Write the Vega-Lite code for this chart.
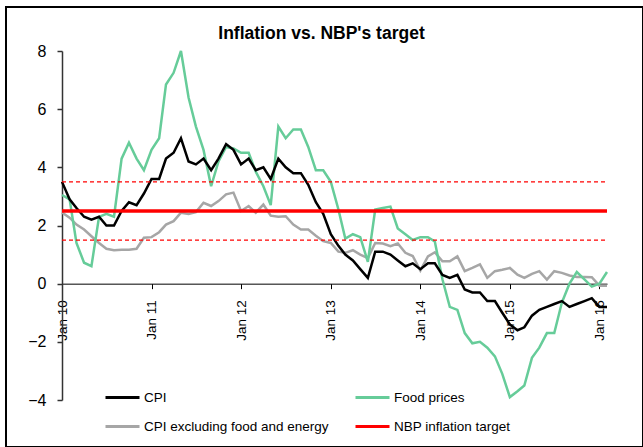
{
  "$schema": "https://vega.github.io/schema/vega-lite/v6.json",
  "width": 637,
  "height": 440,
  "autosize": "none",
  "padding": {"left": 6, "top": 7, "right": 0, "bottom": 0},
  "background": "white",
  "config": {"view": {"stroke": "black", "strokeWidth": 2}, "font": "Liberation Sans"},
  "title": {"text": "Inflation vs. NBP's target", "fontSize": 17.5, "fontWeight": "bold", "font": "Liberation Sans", "color": "black", "offset": -49.5, "baseline": "alphabetic", "dx": -3},
  "datasets": {
    "series": [
      {"date":"2010/01/01","series":"CPI excluding food and energy","value":2.45},
      {"date":"2010/02/01","series":"CPI excluding food and energy","value":2.27},
      {"date":"2010/03/01","series":"CPI excluding food and energy","value":2.03},
      {"date":"2010/04/01","series":"CPI excluding food and energy","value":1.86},
      {"date":"2010/05/01","series":"CPI excluding food and energy","value":1.63},
      {"date":"2010/06/01","series":"CPI excluding food and energy","value":1.4},
      {"date":"2010/07/01","series":"CPI excluding food and energy","value":1.2},
      {"date":"2010/08/01","series":"CPI excluding food and energy","value":1.15},
      {"date":"2010/09/01","series":"CPI excluding food and energy","value":1.17},
      {"date":"2010/10/01","series":"CPI excluding food and energy","value":1.17},
      {"date":"2010/11/01","series":"CPI excluding food and energy","value":1.2},
      {"date":"2010/12/01","series":"CPI excluding food and energy","value":1.58},
      {"date":"2011/01/01","series":"CPI excluding food and energy","value":1.6},
      {"date":"2011/02/01","series":"CPI excluding food and energy","value":1.77},
      {"date":"2011/03/01","series":"CPI excluding food and energy","value":2.03},
      {"date":"2011/04/01","series":"CPI excluding food and energy","value":2.15},
      {"date":"2011/05/01","series":"CPI excluding food and energy","value":2.44},
      {"date":"2011/06/01","series":"CPI excluding food and energy","value":2.4},
      {"date":"2011/07/01","series":"CPI excluding food and energy","value":2.46},
      {"date":"2011/08/01","series":"CPI excluding food and energy","value":2.78},
      {"date":"2011/09/01","series":"CPI excluding food and energy","value":2.67},
      {"date":"2011/10/01","series":"CPI excluding food and energy","value":2.84},
      {"date":"2011/11/01","series":"CPI excluding food and energy","value":3.07},
      {"date":"2011/12/01","series":"CPI excluding food and energy","value":3.13},
      {"date":"2012/01/01","series":"CPI excluding food and energy","value":2.5},
      {"date":"2012/02/01","series":"CPI excluding food and energy","value":2.67},
      {"date":"2012/03/01","series":"CPI excluding food and energy","value":2.44},
      {"date":"2012/04/01","series":"CPI excluding food and energy","value":2.72},
      {"date":"2012/05/01","series":"CPI excluding food and energy","value":2.34},
      {"date":"2012/06/01","series":"CPI excluding food and energy","value":2.3},
      {"date":"2012/07/01","series":"CPI excluding food and energy","value":2.32},
      {"date":"2012/08/01","series":"CPI excluding food and energy","value":2.03},
      {"date":"2012/09/01","series":"CPI excluding food and energy","value":1.86},
      {"date":"2012/10/01","series":"CPI excluding food and energy","value":1.86},
      {"date":"2012/11/01","series":"CPI excluding food and energy","value":1.65},
      {"date":"2012/12/01","series":"CPI excluding food and energy","value":1.46},
      {"date":"2013/01/01","series":"CPI excluding food and energy","value":1.4},
      {"date":"2013/02/01","series":"CPI excluding food and energy","value":1.1},
      {"date":"2013/03/01","series":"CPI excluding food and energy","value":1.06},
      {"date":"2013/04/01","series":"CPI excluding food and energy","value":1.15},
      {"date":"2013/05/01","series":"CPI excluding food and energy","value":1.0},
      {"date":"2013/06/01","series":"CPI excluding food and energy","value":0.88},
      {"date":"2013/07/01","series":"CPI excluding food and energy","value":1.4},
      {"date":"2013/08/01","series":"CPI excluding food and energy","value":1.38},
      {"date":"2013/09/01","series":"CPI excluding food and energy","value":1.29},
      {"date":"2013/10/01","series":"CPI excluding food and energy","value":1.38},
      {"date":"2013/11/01","series":"CPI excluding food and energy","value":1.06},
      {"date":"2013/12/01","series":"CPI excluding food and energy","value":0.95},
      {"date":"2014/01/01","series":"CPI excluding food and energy","value":0.45},
      {"date":"2014/02/01","series":"CPI excluding food and energy","value":0.94},
      {"date":"2014/03/01","series":"CPI excluding food and energy","value":1.08},
      {"date":"2014/04/01","series":"CPI excluding food and energy","value":0.77},
      {"date":"2014/05/01","series":"CPI excluding food and energy","value":0.77},
      {"date":"2014/06/01","series":"CPI excluding food and energy","value":0.94},
      {"date":"2014/07/01","series":"CPI excluding food and energy","value":0.43},
      {"date":"2014/08/01","series":"CPI excluding food and energy","value":0.54},
      {"date":"2014/09/01","series":"CPI excluding food and energy","value":0.66},
      {"date":"2014/10/01","series":"CPI excluding food and energy","value":0.2},
      {"date":"2014/11/01","series":"CPI excluding food and energy","value":0.43},
      {"date":"2014/12/01","series":"CPI excluding food and energy","value":0.48},
      {"date":"2015/01/01","series":"CPI excluding food and energy","value":0.54},
      {"date":"2015/02/01","series":"CPI excluding food and energy","value":0.31},
      {"date":"2015/03/01","series":"CPI excluding food and energy","value":0.2},
      {"date":"2015/04/01","series":"CPI excluding food and energy","value":0.34},
      {"date":"2015/05/01","series":"CPI excluding food and energy","value":0.43},
      {"date":"2015/06/01","series":"CPI excluding food and energy","value":0.14},
      {"date":"2015/07/01","series":"CPI excluding food and energy","value":0.43},
      {"date":"2015/08/01","series":"CPI excluding food and energy","value":0.37},
      {"date":"2015/09/01","series":"CPI excluding food and energy","value":0.28},
      {"date":"2015/10/01","series":"CPI excluding food and energy","value":0.23},
      {"date":"2015/11/01","series":"CPI excluding food and energy","value":0.23},
      {"date":"2015/12/01","series":"CPI excluding food and energy","value":0.22},
      {"date":"2016/01/01","series":"CPI excluding food and energy","value":-0.07},
      {"date":"2016/02/01","series":"CPI excluding food and energy","value":-0.07},

      {"date":"2010/01/01","series":"Food prices","value":3.05},
      {"date":"2010/02/01","series":"Food prices","value":2.9},
      {"date":"2010/03/01","series":"Food prices","value":1.4},
      {"date":"2010/04/01","series":"Food prices","value":0.72},
      {"date":"2010/05/01","series":"Food prices","value":0.6},
      {"date":"2010/06/01","series":"Food prices","value":2.3},
      {"date":"2010/07/01","series":"Food prices","value":2.4},
      {"date":"2010/08/01","series":"Food prices","value":2.3},
      {"date":"2010/09/01","series":"Food prices","value":4.3},
      {"date":"2010/10/01","series":"Food prices","value":4.85},
      {"date":"2010/11/01","series":"Food prices","value":4.3},
      {"date":"2010/12/01","series":"Food prices","value":3.9},
      {"date":"2011/01/01","series":"Food prices","value":4.6},
      {"date":"2011/02/01","series":"Food prices","value":5.0},
      {"date":"2011/03/01","series":"Food prices","value":6.85},
      {"date":"2011/04/01","series":"Food prices","value":7.25},
      {"date":"2011/05/01","series":"Food prices","value":8.7},
      {"date":"2011/06/01","series":"Food prices","value":6.4},
      {"date":"2011/07/01","series":"Food prices","value":5.4},
      {"date":"2011/08/01","series":"Food prices","value":4.6},
      {"date":"2011/09/01","series":"Food prices","value":3.35},
      {"date":"2011/10/01","series":"Food prices","value":4.2},
      {"date":"2011/11/01","series":"Food prices","value":4.7},
      {"date":"2011/12/01","series":"Food prices","value":4.65},
      {"date":"2012/01/01","series":"Food prices","value":4.5},
      {"date":"2012/02/01","series":"Food prices","value":4.5},
      {"date":"2012/03/01","series":"Food prices","value":3.85},
      {"date":"2012/04/01","series":"Food prices","value":3.35},
      {"date":"2012/05/01","series":"Food prices","value":2.7},
      {"date":"2012/06/01","series":"Food prices","value":5.4},
      {"date":"2012/07/01","series":"Food prices","value":5.0},
      {"date":"2012/08/01","series":"Food prices","value":5.3},
      {"date":"2012/09/01","series":"Food prices","value":5.3},
      {"date":"2012/10/01","series":"Food prices","value":4.7},
      {"date":"2012/11/01","series":"Food prices","value":3.9},
      {"date":"2012/12/01","series":"Food prices","value":3.9},
      {"date":"2013/01/01","series":"Food prices","value":3.5},
      {"date":"2013/02/01","series":"Food prices","value":2.55},
      {"date":"2013/03/01","series":"Food prices","value":1.55},
      {"date":"2013/04/01","series":"Food prices","value":1.7},
      {"date":"2013/05/01","series":"Food prices","value":1.6},
      {"date":"2013/06/01","series":"Food prices","value":0.75},
      {"date":"2013/07/01","series":"Food prices","value":2.55},
      {"date":"2013/08/01","series":"Food prices","value":2.6},
      {"date":"2013/09/01","series":"Food prices","value":2.65},
      {"date":"2013/10/01","series":"Food prices","value":1.9},
      {"date":"2013/11/01","series":"Food prices","value":1.7},
      {"date":"2013/12/01","series":"Food prices","value":1.5},
      {"date":"2014/01/01","series":"Food prices","value":1.6},
      {"date":"2014/02/01","series":"Food prices","value":1.6},
      {"date":"2014/03/01","series":"Food prices","value":1.45},
      {"date":"2014/04/01","series":"Food prices","value":0.15},
      {"date":"2014/05/01","series":"Food prices","value":-0.8},
      {"date":"2014/06/01","series":"Food prices","value":-0.9},
      {"date":"2014/07/01","series":"Food prices","value":-1.7},
      {"date":"2014/08/01","series":"Food prices","value":-2.05},
      {"date":"2014/09/01","series":"Food prices","value":-2.0},
      {"date":"2014/10/01","series":"Food prices","value":-2.2},
      {"date":"2014/11/01","series":"Food prices","value":-2.5},
      {"date":"2014/12/01","series":"Food prices","value":-3.1},
      {"date":"2015/01/01","series":"Food prices","value":-3.9},
      {"date":"2015/02/01","series":"Food prices","value":-3.7},
      {"date":"2015/03/01","series":"Food prices","value":-3.5},
      {"date":"2015/04/01","series":"Food prices","value":-2.55},
      {"date":"2015/05/01","series":"Food prices","value":-2.2},
      {"date":"2015/06/01","series":"Food prices","value":-1.7},
      {"date":"2015/07/01","series":"Food prices","value":-1.7},
      {"date":"2015/08/01","series":"Food prices","value":-0.65},
      {"date":"2015/09/01","series":"Food prices","value":0.0},
      {"date":"2015/10/01","series":"Food prices","value":0.4},
      {"date":"2015/11/01","series":"Food prices","value":0.15},
      {"date":"2015/12/01","series":"Food prices","value":-0.1},
      {"date":"2016/01/01","series":"Food prices","value":0.0},
      {"date":"2016/02/01","series":"Food prices","value":0.4},

      {"date":"2010/01/01","series":"CPI","value":3.5},
      {"date":"2010/02/01","series":"CPI","value":2.9},
      {"date":"2010/03/01","series":"CPI","value":2.6},
      {"date":"2010/04/01","series":"CPI","value":2.3},
      {"date":"2010/05/01","series":"CPI","value":2.2},
      {"date":"2010/06/01","series":"CPI","value":2.3},
      {"date":"2010/07/01","series":"CPI","value":2.0},
      {"date":"2010/08/01","series":"CPI","value":2.0},
      {"date":"2010/09/01","series":"CPI","value":2.5},
      {"date":"2010/10/01","series":"CPI","value":2.8},
      {"date":"2010/11/01","series":"CPI","value":2.7},
      {"date":"2010/12/01","series":"CPI","value":3.1},
      {"date":"2011/01/01","series":"CPI","value":3.6},
      {"date":"2011/02/01","series":"CPI","value":3.6},
      {"date":"2011/03/01","series":"CPI","value":4.3},
      {"date":"2011/04/01","series":"CPI","value":4.5},
      {"date":"2011/05/01","series":"CPI","value":5.0},
      {"date":"2011/06/01","series":"CPI","value":4.2},
      {"date":"2011/07/01","series":"CPI","value":4.1},
      {"date":"2011/08/01","series":"CPI","value":4.3},
      {"date":"2011/09/01","series":"CPI","value":3.9},
      {"date":"2011/10/01","series":"CPI","value":4.3},
      {"date":"2011/11/01","series":"CPI","value":4.8},
      {"date":"2011/12/01","series":"CPI","value":4.6},
      {"date":"2012/01/01","series":"CPI","value":4.1},
      {"date":"2012/02/01","series":"CPI","value":4.3},
      {"date":"2012/03/01","series":"CPI","value":3.9},
      {"date":"2012/04/01","series":"CPI","value":4.0},
      {"date":"2012/05/01","series":"CPI","value":3.6},
      {"date":"2012/06/01","series":"CPI","value":4.3},
      {"date":"2012/07/01","series":"CPI","value":4.0},
      {"date":"2012/08/01","series":"CPI","value":3.8},
      {"date":"2012/09/01","series":"CPI","value":3.8},
      {"date":"2012/10/01","series":"CPI","value":3.4},
      {"date":"2012/11/01","series":"CPI","value":2.8},
      {"date":"2012/12/01","series":"CPI","value":2.4},
      {"date":"2013/01/01","series":"CPI","value":1.7},
      {"date":"2013/02/01","series":"CPI","value":1.3},
      {"date":"2013/03/01","series":"CPI","value":1.0},
      {"date":"2013/04/01","series":"CPI","value":0.8},
      {"date":"2013/05/01","series":"CPI","value":0.5},
      {"date":"2013/06/01","series":"CPI","value":0.2},
      {"date":"2013/07/01","series":"CPI","value":1.1},
      {"date":"2013/08/01","series":"CPI","value":1.1},
      {"date":"2013/09/01","series":"CPI","value":1.0},
      {"date":"2013/10/01","series":"CPI","value":0.8},
      {"date":"2013/11/01","series":"CPI","value":0.6},
      {"date":"2013/12/01","series":"CPI","value":0.7},
      {"date":"2014/01/01","series":"CPI","value":0.5},
      {"date":"2014/02/01","series":"CPI","value":0.7},
      {"date":"2014/03/01","series":"CPI","value":0.7},
      {"date":"2014/04/01","series":"CPI","value":0.3},
      {"date":"2014/05/01","series":"CPI","value":0.2},
      {"date":"2014/06/01","series":"CPI","value":0.3},
      {"date":"2014/07/01","series":"CPI","value":-0.2},
      {"date":"2014/08/01","series":"CPI","value":-0.3},
      {"date":"2014/09/01","series":"CPI","value":-0.3},
      {"date":"2014/10/01","series":"CPI","value":-0.6},
      {"date":"2014/11/01","series":"CPI","value":-0.6},
      {"date":"2014/12/01","series":"CPI","value":-1.0},
      {"date":"2015/01/01","series":"CPI","value":-1.4},
      {"date":"2015/02/01","series":"CPI","value":-1.6},
      {"date":"2015/03/01","series":"CPI","value":-1.5},
      {"date":"2015/04/01","series":"CPI","value":-1.1},
      {"date":"2015/05/01","series":"CPI","value":-0.9},
      {"date":"2015/06/01","series":"CPI","value":-0.8},
      {"date":"2015/07/01","series":"CPI","value":-0.7},
      {"date":"2015/08/01","series":"CPI","value":-0.6},
      {"date":"2015/09/01","series":"CPI","value":-0.8},
      {"date":"2015/10/01","series":"CPI","value":-0.7},
      {"date":"2015/11/01","series":"CPI","value":-0.6},
      {"date":"2015/12/01","series":"CPI","value":-0.5},
      {"date":"2016/01/01","series":"CPI","value":-0.8},
      {"date":"2016/02/01","series":"CPI","value":-0.8}
    ],
    "target": [
      {"series": "NBP inflation target", "start": "2010/01/01", "end": "2016/02/01", "value": 2.5}
    ],
    "band": [
      {"start": "2010/01/01", "end": "2016/02/01", "value": 1.5},
      {"start": "2010/01/01", "end": "2016/02/01", "value": 3.5}
    ]
  },
  "layer": [
    {
      "data": {"name": "series"},
      "mark": {"type": "line", "strokeWidth": 2.5},
      "encoding": {
        "x": {
          "field": "date", "type": "temporal",
          "scale": {"domain": [{"year": 2010, "month": 1, "date": 1}, {"year": 2016, "month": 2, "date": 1}], "range": [56, 601]},
          "axis": {
            "orient": "bottom", "offset": -163.33, "title": null, "grid": false,
            "values": [{"year": 2010, "month": 1, "date": 1}, {"year": 2011, "month": 1, "date": 1}, {"year": 2012, "month": 1, "date": 1}, {"year": 2013, "month": 1, "date": 1}, {"year": 2014, "month": 1, "date": 1}, {"year": 2015, "month": 1, "date": 1}, {"year": 2016, "month": 1, "date": 1}],
            "format": "%b %y", "labelAngle": 270, "labelAlign": "right", "labelBaseline": "middle",
            "labelFont": "Liberation Sans", "labelFontSize": 13.5, "labelColor": "black",
            "labelPadding": 11, "tickSize": 5, "tickColor": "black", "domainColor": "black", "domainWidth": 1,
            "labelFlush": false, "labelOverlap": false
          }
        },
        "y": {
          "field": "value", "type": "quantitative",
          "scale": {"domain": [-4, 8], "range": [393, 44], "clamp": true, "nice": false, "zero": false},
          "axis": {
            "orient": "left", "offset": -56, "title": null, "grid": false,
            "values": [-4, -2, 0, 2, 4, 6, 8],
            "labelFont": "Liberation Sans", "labelFontSize": 16, "labelColor": "black",
            "labelPadding": 11, "tickSize": 5, "tickColor": "#333333", "domainColor": "#333333", "domainWidth": 1.5, "tickWidth": 1.5,
            "labelFlush": false, "labelOverlap": false
          }
        },
        "color": {
          "field": "series", "type": "nominal",
          "sort": null,
          "scale": {"domain": ["CPI", "Food prices", "CPI excluding food and energy", "NBP inflation target"], "range": ["#000000", "#66CC99", "#A6A6A6", "#FF0000"]},
          "legend": {
            "orient": "none", "legendX": 98, "legendY": 372, "columns": 2, "direction": "horizontal", "title": null,
            "symbolType": "stroke", "symbolSize": 1156, "symbolStrokeWidth": 3,
            "labelFont": "Liberation Sans", "labelFontSize": 13.5, "labelColor": "black",
            "labelOffset": 3, "columnPadding": 20, "rowPadding": 4, "labelLimit": 400, "padding": 0
          }
        }
      }
    },
    {
      "data": {"name": "band"},
      "mark": {"type": "rule", "strokeWidth": 1.2, "strokeDash": [4, 3], "color": "#FF0000"},
      "encoding": {
        "x": {"field": "start", "type": "temporal"},
        "x2": {"field": "end"},
        "y": {"field": "value", "type": "quantitative"}
      }
    },
    {
      "data": {"name": "target"},
      "mark": {"type": "rule", "strokeWidth": 3.5},
      "encoding": {
        "x": {"field": "start", "type": "temporal"},
        "x2": {"field": "end"},
        "y": {"field": "value", "type": "quantitative"},
        "color": {
          "field": "series", "type": "nominal", "sort": null,
          "scale": {"domain": ["CPI", "Food prices", "CPI excluding food and energy", "NBP inflation target"], "range": ["#000000", "#66CC99", "#A6A6A6", "#FF0000"]}
        }
      }
    }
  ]
}
